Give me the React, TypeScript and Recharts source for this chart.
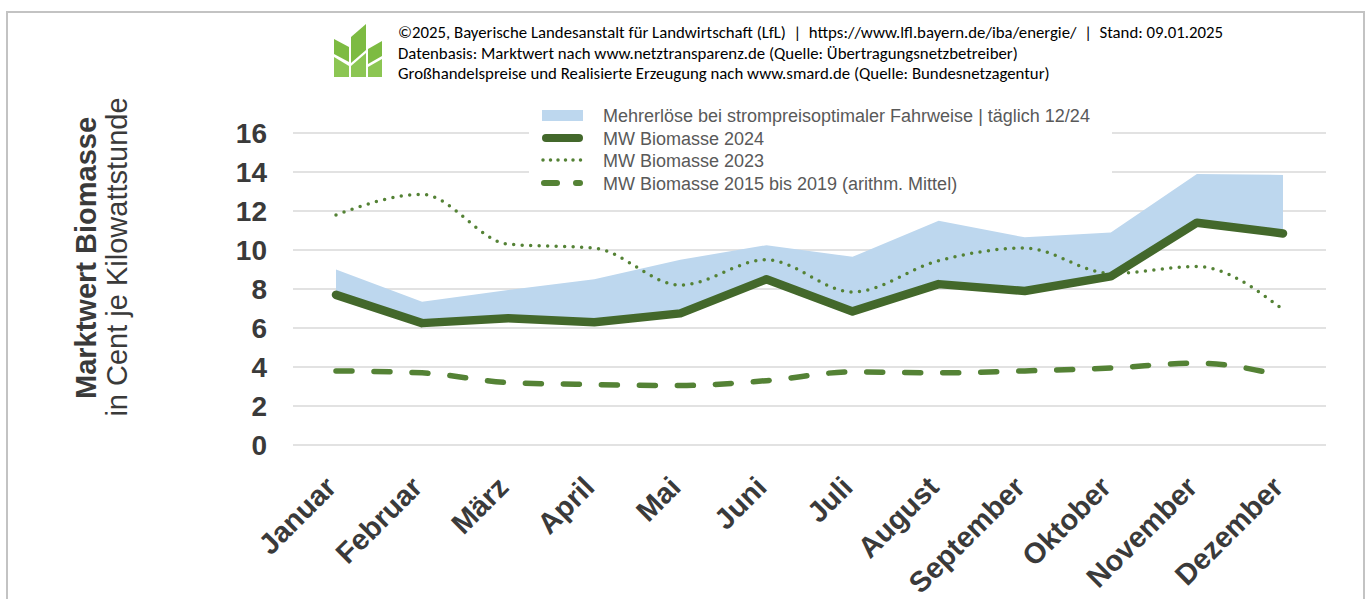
import React from 'react';
import { ComposedChart, Line, Area, XAxis, YAxis, CartesianGrid } from 'recharts';

const months = ['Januar', 'Februar', 'März', 'April', 'Mai', 'Juni', 'Juli', 'August', 'September', 'Oktober', 'November', 'Dezember'];
const mw2024 = [7.7, 6.25, 6.5, 6.3, 6.75, 8.5, 6.85, 8.25, 7.9, 8.65, 11.4, 10.85];
const bandTop = [9.0, 7.35, 7.95, 8.5, 9.5, 10.25, 9.65, 11.5, 10.65, 10.9, 13.9, 13.85];
const mw2023 = [11.8, 12.85, 10.3, 10.1, 8.2, 9.5, 7.85, 9.45, 10.1, 8.8, 9.15, 6.95];
const mw1519 = [3.8, 3.7, 3.2, 3.1, 3.05, 3.3, 3.75, 3.7, 3.8, 3.95, 4.2, 3.55];
const yTicks = [0, 2, 4, 6, 8, 10, 12, 14, 16];

const legendLabels = [
  'Mehrerlöse bei strompreisoptimaler Fahrweise | täglich 12/24',
  'MW Biomasse 2024',
  'MW Biomasse 2023',
  'MW Biomasse 2015 bis 2019 (arithm. Mittel)',
];
const headerLines = [
  '©2025, Bayerische Landesanstalt für Landwirtschaft (LfL)  |  https://www.lfl.bayern.de/iba/energie/  |  Stand: 09.01.2025',
  'Datenbasis: Marktwert nach www.netztransparenz.de (Quelle: Übertragungsnetzbetreiber)',
  'Großhandelspreise und Realisierte Erzeugung nach www.smard.de (Quelle: Bundesnetzagentur)',
];

const data = months.map((m, i) => ({
  month: m,
  band: [mw2024[i], bandTop[i]],
  mw2024: mw2024[i],
  mw2023: mw2023[i],
  mw1519: mw1519[i],
}));

const DARK = '#43682b';
const GREEN = '#548235';
const BAND = '#bdd7ee';
const TXT = '#3a3a3a';
const FONT = '"Liberation Sans", Arial, sans-serif';

const XTick = (props: any) => {
  const { x, y, payload } = props;
  const tx = x + 2;
  const ty = y + 36;
  return (
    <text x={tx} y={ty} textAnchor="end" transform={`rotate(-45, ${tx}, ${ty})`}
      fontFamily={FONT} fontWeight="bold" fontSize={29} fill={TXT}>
      {payload.value}
    </text>
  );
};

const Logo = () => (
  <svg width={60} height={62} style={{ position: 'absolute', left: 328, top: 20 }} viewBox="328 20 60 62">
    <polygon points="351,37 366,24 366,50 351,63" fill="#7dbb42" />
    <polygon points="334,39 349,47 349,62 334,54" fill="#7dbb42" />
    <polygon points="368,49 382,41 382,56 368,64" fill="#7dbb42" />
    <polygon points="334,57 349,66 349,77 334,77" fill="#8cc653" />
    <polygon points="351,66 366,53 366,77 351,77" fill="#8cc653" />
    <polygon points="368,67 382,59 382,77 368,77" fill="#8cc653" />
  </svg>
);

const LegendBox = () => (
  <div style={{ position: 'absolute', left: 529, top: 99, width: 583, height: 96, background: '#fff' }}>
    <svg width={583} height={96} style={{ position: 'absolute', left: 0, top: 0 }}>
      <rect x={13} y={11} width={41} height={11} fill={BAND} />
      <line x1={17} y1={39} x2={50} y2={39} stroke={DARK} strokeWidth={8} strokeLinecap="round" />
      <line x1={14} y1={61} x2={52} y2={61} stroke={GREEN} strokeWidth={3.5} strokeLinecap="round" strokeDasharray="0 7.5" />
      <line x1={15} y1={84} x2={28} y2={84} stroke={GREEN} strokeWidth={6} strokeLinecap="round" />
      <line x1={47} y1={84} x2={51} y2={84} stroke={GREEN} strokeWidth={6} strokeLinecap="round" />
      {legendLabels.map((l, i) => (
        <text key={i} x={74} y={17 + i * 22.5} dominantBaseline="central" fontFamily={FONT} fontSize={18} fill="#595959">{l}</text>
      ))}
    </svg>
  </div>
);

export default function App() {
  return (
    <div style={{ position: 'absolute', left: 0, top: 0, width: 1369, height: 599, background: '#fff', overflow: 'hidden' }}>
      <div style={{ position: 'absolute', left: 6, top: 11, width: 1359, height: 620, border: '2px solid #c3c3c3', boxSizing: 'border-box' }} />
      <ComposedChart width={1369} height={599} data={data} margin={{ top: 133, right: 43, bottom: 0, left: 0 }}
        style={{ position: 'absolute', left: 0, top: 0 }}>
        <CartesianGrid horizontal vertical={false} stroke="#d9d9d9" strokeWidth={1.5} />
        <XAxis dataKey="month" height={154} axisLine={false} tickLine={false} tick={<XTick />} interval={0}
          padding={{ left: 43, right: 43 }} />
        <YAxis width={293} domain={[0, 16]} ticks={yTicks} axisLine={false} tickLine={false} tickSize={0} tickMargin={26}
          tick={{ fontFamily: FONT, fontWeight: 'bold', fontSize: 28, fill: TXT }} />
        <Area dataKey="band" type="linear" fill={BAND} fillOpacity={1} stroke="none" isAnimationActive={false} />
        <Line dataKey="mw1519" type="monotone" stroke={GREEN} strokeWidth={5.5} strokeLinecap="round" strokeDasharray="16 22" dot={false} isAnimationActive={false} />
        <Line dataKey="mw2023" type="monotone" stroke={GREEN} strokeWidth={3.5} strokeLinecap="round" strokeDasharray="0 8.5" dot={false} isAnimationActive={false} />
        <Line dataKey="mw2024" type="linear" stroke={DARK} strokeWidth={8.5} strokeLinejoin="round" strokeLinecap="round" dot={false} isAnimationActive={false} />
      </ComposedChart>
      <svg width={160} height={450} style={{ position: 'absolute', left: 0, top: 0 }}>
        <text transform="translate(96,258) rotate(-90)" textAnchor="middle" fontFamily={FONT} fontWeight="bold" fontSize={29} fill={TXT}>Marktwert Biomasse</text>
        <text transform="translate(127,257) rotate(-90)" textAnchor="middle" fontFamily={FONT} fontSize={29} fill={TXT}>in Cent je Kilowattstunde</text>
      </svg>
      <LegendBox />
      <Logo />
      {headerLines.map((l, i) => (
        <div key={i} style={{ position: 'absolute', left: 398, top: 23 + i * 20.5, lineHeight: '20px', fontFamily: 'Carlito, Lato, sans-serif', fontSize: 16.8, color: '#000', whiteSpace: 'pre' }}>{l}</div>
      ))}
    </div>
  );
}
